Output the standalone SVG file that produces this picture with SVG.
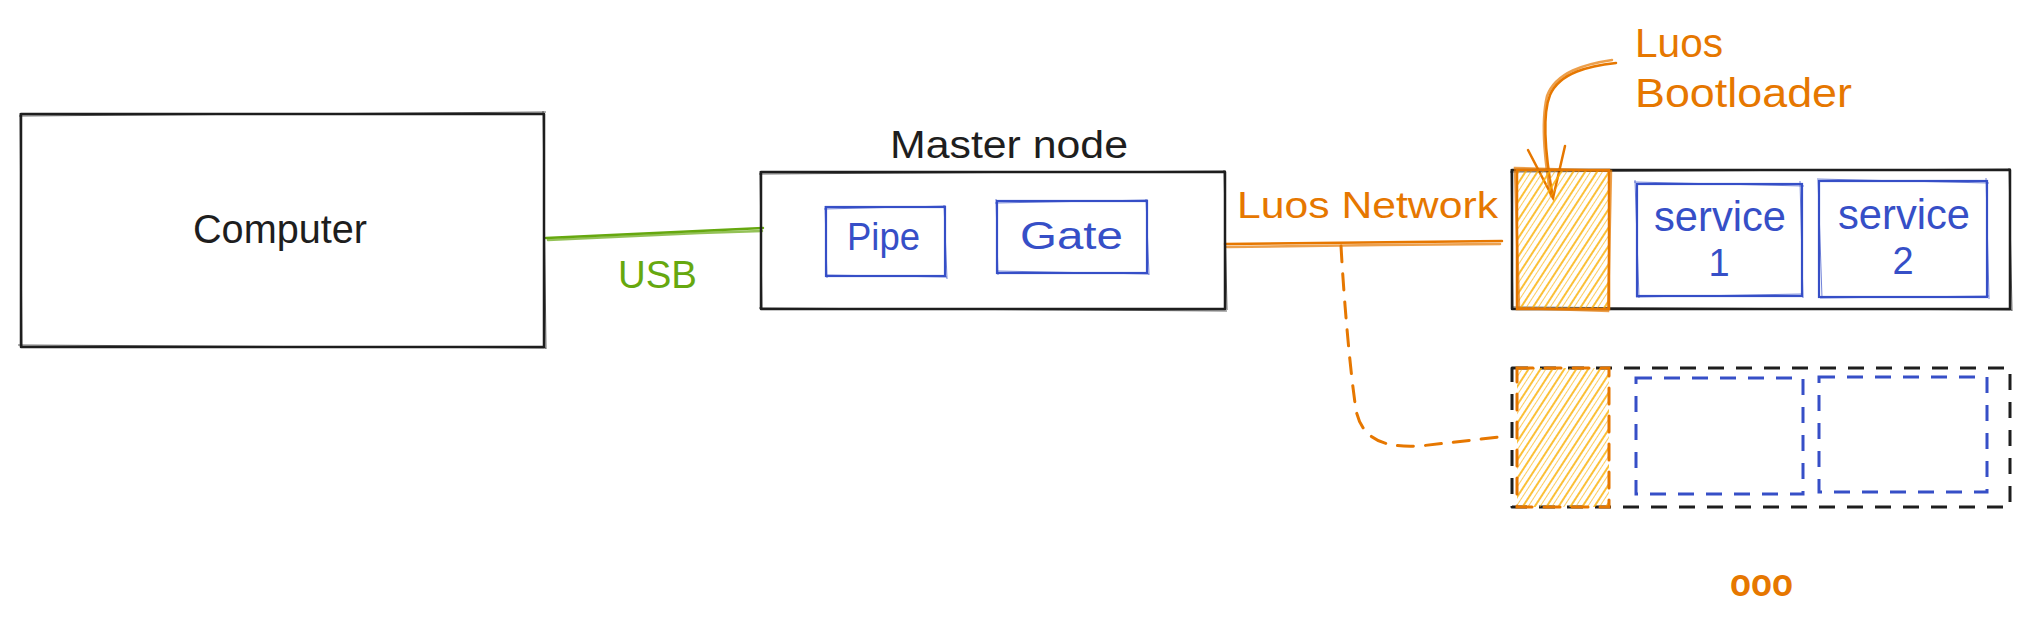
<svg xmlns="http://www.w3.org/2000/svg" width="2030" height="626" viewBox="0 0 2030 626">
<defs>
<style>
.blk{fill:none;stroke:#1e1e1e;stroke-width:2.5;stroke-linejoin:round}
.blk2{fill:none;stroke:#1e1e1e;stroke-width:1;opacity:.7}
.blu{fill:none;stroke:#364fc7;stroke-width:2.2}
.blu2{fill:none;stroke:#364fc7;stroke-width:1;opacity:.7}
.org{fill:none;stroke:#e67700;stroke-width:2.5;stroke-linecap:round}
.grn{fill:none;stroke:#66a80f;stroke-width:2.5;stroke-linecap:round}
.dash{stroke-dasharray:16 12;stroke-width:3}
.t{font-family:"Liberation Sans",Arial,sans-serif}
.tb{fill:#1e1e1e}
.tu{fill:#364fc7}
.to{fill:#e67700}
.tg{fill:#66a80f}
</style>
<pattern id="hatch" patternUnits="userSpaceOnUse" width="10" height="10" patternTransform="rotate(33)">
<line x1="3" y1="0" x2="3" y2="10" stroke="#fab005" stroke-width="1.6"/>
<line x1="7.5" y1="0" x2="7.5" y2="10" stroke="#fab005" stroke-width="0.8" opacity="0.8"/>
</pattern>
</defs>
<rect width="2030" height="626" fill="#ffffff"/>

<g id="connectors">
<path class="grn" d="M546,238 L763,228"/>
<path class="grn" d="M548,240 L700,233 L762,231" stroke-width="1" opacity="0.7"/>
<path class="org" d="M1225,244 L1502,241"/>
<path class="org" d="M1227,247 L1380,245 L1500,244" stroke-width="1" opacity="0.7"/>
<path class="org dash" d="M1341,246 C1344,300 1350,370 1356,410 C1362,440 1385,448 1420,446 L1499,437" stroke-dasharray="20 18"/>
<path class="org" d="M1616,63 C1590,66 1560,72 1550,95 C1540,120 1548,170 1553,198"/>
<path class="org" d="M1612,60 C1585,64 1556,72 1547,96 C1540,125 1546,170 1551,196" stroke-width="1" opacity="0.7"/>
<path class="org" d="M1528,150 L1553,198 L1565,146"/>
</g>

<g id="computer">
<rect class="blk" x="21" y="114" width="523" height="233"/>
<path class="blk2" d="M19,116 L546,112 M543,111 L546,349 M546,348 L18,345 M22,347 L20,113"/>
<text class="t tb" x="193" y="243" font-size="40" textLength="174" lengthAdjust="spacingAndGlyphs">Computer</text>
</g>

<g id="usb-label">
<text class="t tg" x="618" y="288" font-size="39" textLength="79" lengthAdjust="spacingAndGlyphs">USB</text>
</g>

<g id="master-node">
<text class="t tb" x="890" y="158" font-size="38" textLength="238" lengthAdjust="spacingAndGlyphs">Master node</text>
<rect class="blk" x="761" y="172" width="464" height="137"/>
<path class="blk2" d="M759,174 L1226,171 M1224,170 L1227,310 M1227,311 L759,308 M762,310 L760,171"/>
</g>

<g id="pipe">
<rect class="blu" x="826" y="207" width="119" height="69"/>
<path class="blu2" d="M824,209 L946,206 M944,205 L947,279 M947,277 L825,275 M827,278 L825,206"/>
<text class="t tu" x="847" y="250" font-size="38" textLength="73" lengthAdjust="spacingAndGlyphs">Pipe</text>
</g>

<g id="gate">
<rect class="blu" x="997" y="201" width="150" height="72"/>
<path class="blu2" d="M995,203 L1148,200 M1146,199 L1149,275 M1149,274 L996,271 M998,275 L996,199"/>
<text class="t tu" x="1020" y="249" font-size="38" textLength="103" lengthAdjust="spacingAndGlyphs">Gate</text>
</g>

<g id="network-label">
<text class="t to" x="1237" y="218" font-size="37" textLength="261" lengthAdjust="spacingAndGlyphs">Luos Network</text>
</g>

<g id="bootloader-label">
<text class="t to" x="1635" y="57" font-size="40" textLength="88" lengthAdjust="spacingAndGlyphs">Luos</text>
<text class="t to" x="1635" y="107" font-size="40" textLength="217" lengthAdjust="spacingAndGlyphs">Bootloader</text>
</g>

<g id="node-1">
<rect class="blk" x="1512" y="170" width="498" height="139"/>
<path class="blk2" d="M1510,172 L2011,169 M2009,168 L2012,311 M2012,310 L1511,307 M1513,310 L1511,169"/>
<rect x="1517" y="170" width="92" height="139" fill="url(#hatch)"/>
<rect class="org" x="1517" y="170" width="92" height="139" stroke-width="3"/>
<path class="org" d="M1515,168 L1611,171 L1608,311 L1519,308 Z" stroke-width="1" opacity="0.7"/>
</g>

<g id="service-1">
<rect class="blu" x="1637" y="184" width="165" height="112"/>
<path class="blu2" d="M1634,182 L1804,186 M1800,181 L1803,298 M1803,294 L1636,297 M1635,180 L1639,298"/>
<text class="t tu" x="1654" y="231" font-size="42" textLength="132" lengthAdjust="spacingAndGlyphs">service</text>
<text class="t tu" x="1719" y="276" font-size="38" text-anchor="middle">1</text>
</g>

<g id="service-2">
<rect class="blu" x="1819" y="181" width="168" height="116"/>
<path class="blu2" d="M1817,179 L1989,183 M1986,178 L1989,299 M1989,296 L1820,298 M1818,180 L1822,298"/>
<text class="t tu" x="1838" y="229" font-size="42" textLength="132" lengthAdjust="spacingAndGlyphs">service</text>
<text class="t tu" x="1903" y="274" font-size="38" text-anchor="middle">2</text>
</g>

<g id="node-2">
<rect class="blk dash" x="1512" y="368" width="498" height="139"/>
<rect x="1517" y="368" width="92" height="139" fill="url(#hatch)"/>
<rect class="org dash" x="1517" y="368" width="92" height="139"/>
<rect class="blu dash" x="1636" y="378" width="167" height="116"/>
<rect class="blu dash" x="1819" y="377" width="168" height="115"/>
</g>

<g id="more">
<text class="t to" x="1730" y="596" font-size="38" font-weight="bold" textLength="63" lengthAdjust="spacingAndGlyphs">ooo</text>
</g>
</svg>
